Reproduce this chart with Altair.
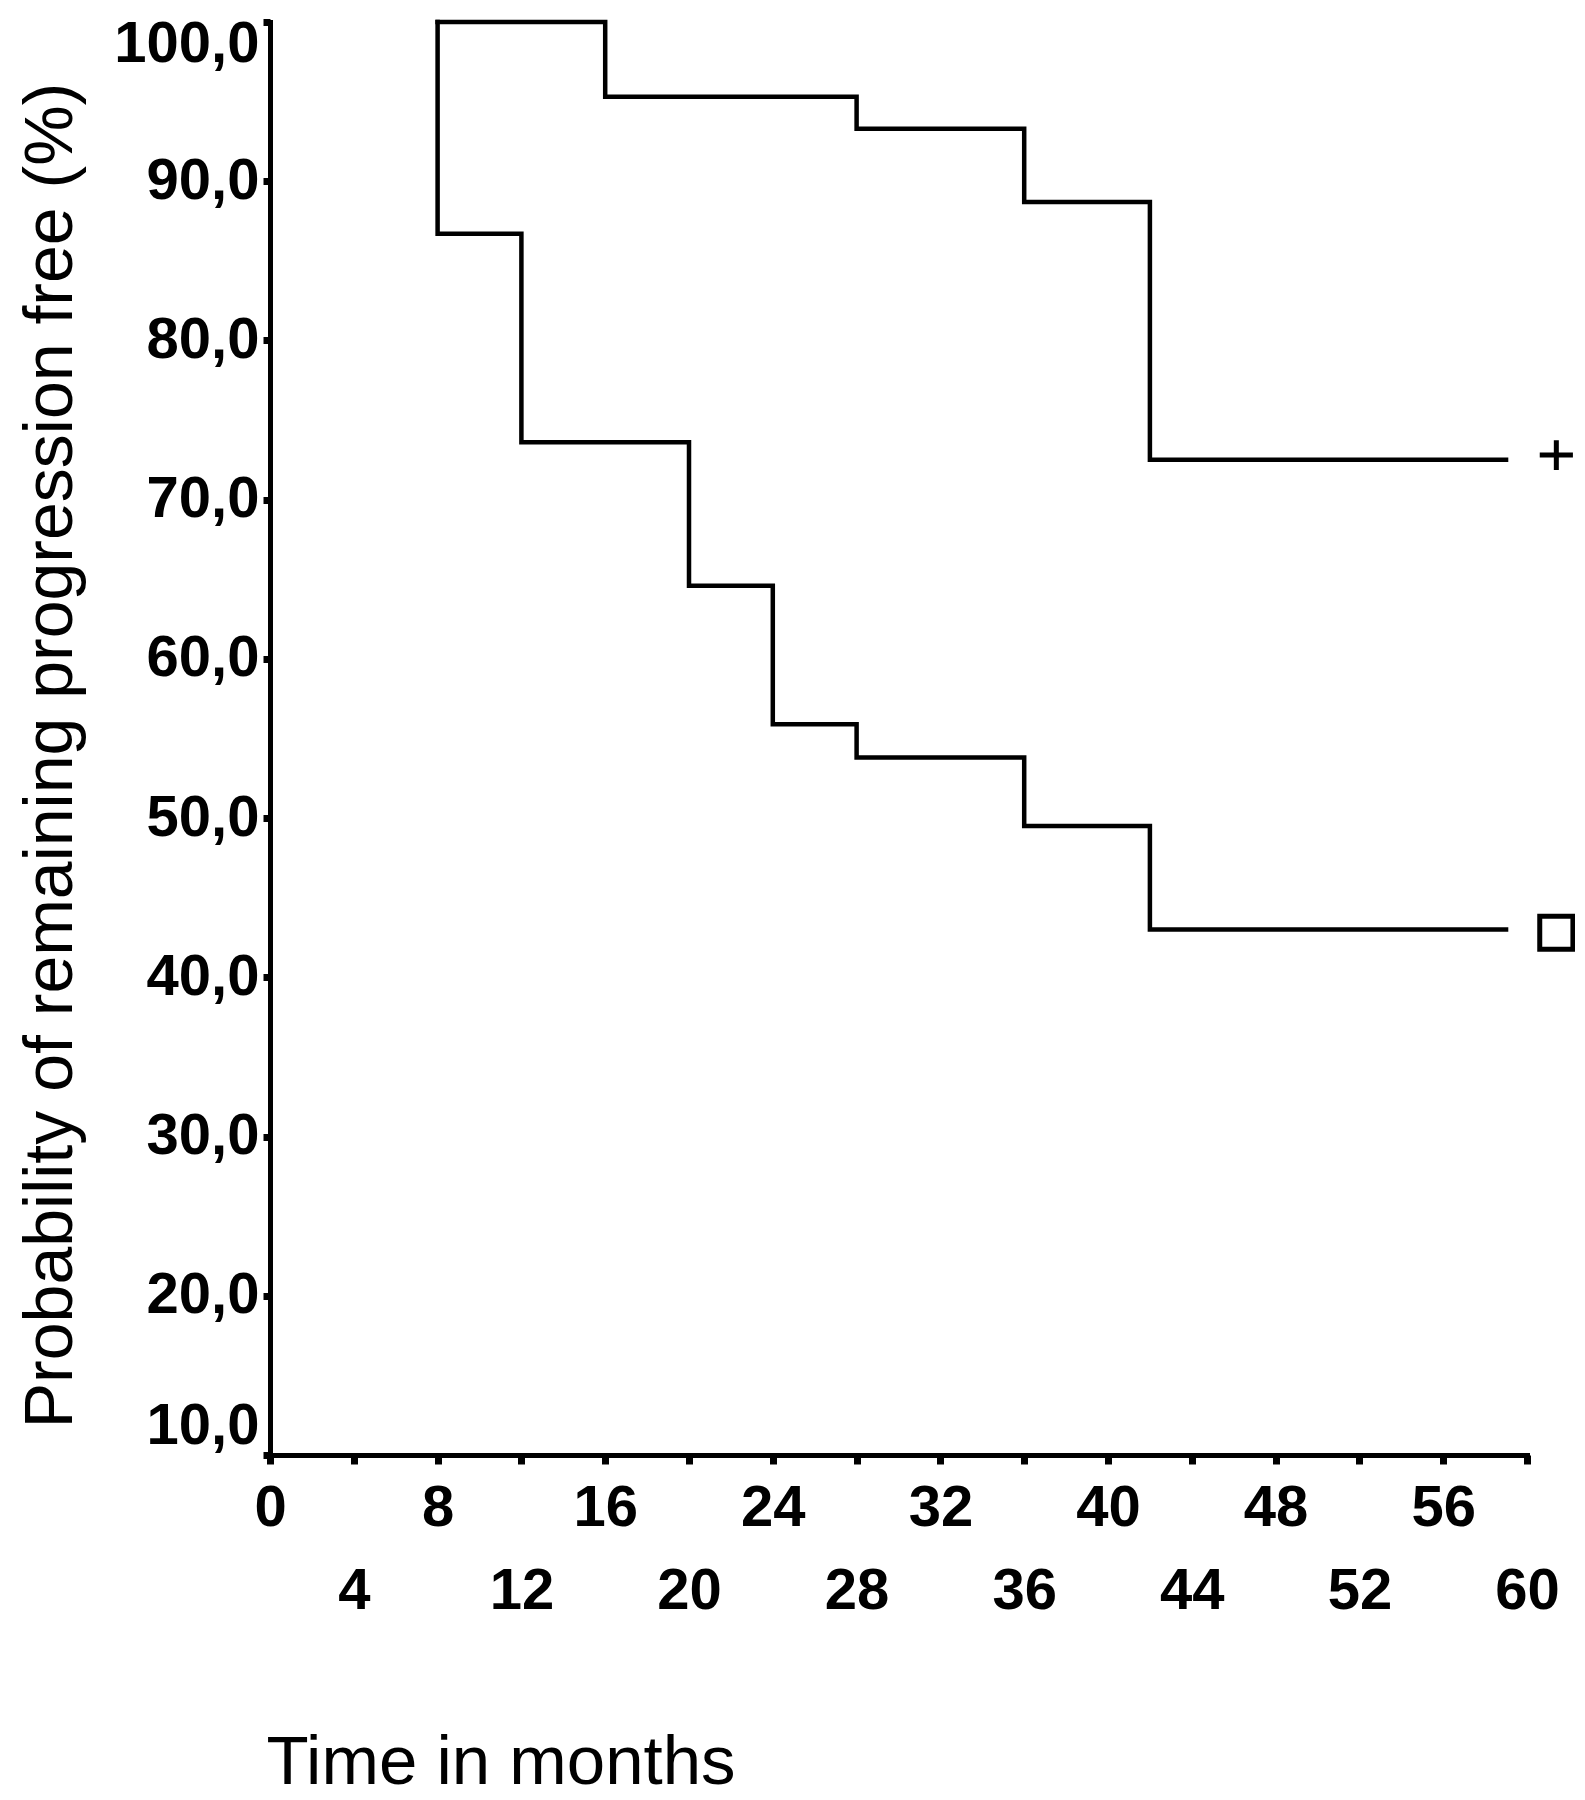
import altair as alt
import pandas as pd

# Kaplan-Meier style step curves (time in months, % progression free)
upper_months = [8, 16, 28, 36, 42, 59]
upper_pct = [100.0, 95.3, 93.3, 88.7, 72.5, 72.5]
lower_months = [8, 8, 12, 20, 24, 28, 36, 42, 59]
lower_pct = [100.0, 86.7, 73.6, 64.6, 55.9, 53.8, 49.5, 43.0, 43.0]

# end-of-curve group symbols
marker_groups = ["upper", "lower"]
marker_months = [61.4, 61.4]
marker_pct = [72.8, 42.8]

x_ticks = list(range(0, 61, 4))
y_ticks = list(range(10, 101, 10))

rows = []
for i, (m, p) in enumerate(zip(upper_months, upper_pct)):
    rows.append({"group": "upper", "month": m, "pct": p, "idx": i})
for i, (m, p) in enumerate(zip(lower_months, lower_pct)):
    rows.append({"group": "lower", "month": m, "pct": p, "idx": i})
df = pd.DataFrame(rows)

mdf = pd.DataFrame({"group": marker_groups, "month": marker_months, "pct": marker_pct})

LABEL_FONT = "Liberation Sans Narrow, Liberation Sans, Arial, sans-serif"
TITLE_FONT = "Liberation Sans, Arial, sans-serif"

x_axis = alt.Axis(
    values=x_ticks,
    format="d",
    title="Time in months",
    titleFont=TITLE_FONT,
    titleFontSize=69,
    titleFontWeight="normal",
    titleColor="black",
    titleX=-4,
    titleY=328,
    titleAlign="left",
    titleBaseline="alphabetic",
    labelFont=LABEL_FONT,
    labelFontSize=58,
    labelFontWeight="bold",
    labelColor="black",
    labelFlush=False,
    labelOverlap=False,
    labelBound=False,
    labelPadding={"condition": {"test": "datum.value % 8 != 0", "value": 98}, "value": 15},
    tickSize=9,
    tickWidth=7,
    tickColor="black",
    domainColor="black",
    domainWidth=5,
    domainCap="square",
    grid=False,
)

y_axis = alt.Axis(
    values=y_ticks,
    labelExpr="replace(format(datum.value, '.1f'), '.', ',')",
    title="Probability of remaining progression free (%)",
    titleFont=TITLE_FONT,
    titleFontSize=68,
    titleFontWeight="normal",
    titleColor="black",
    titleX=-199,
    titleY=733,
    titleAngle=270,
    titleAlign="center",
    titleBaseline="alphabetic",
    labelFont=LABEL_FONT,
    labelFontSize=58,
    labelFontWeight="bold",
    labelColor="black",
    labelFlush=False,
    labelOverlap=False,
    labelBound=False,
    labelPadding=4,
    labelLineHeight=45,
    labelBaseline={
        "condition": [
            {"test": "datum.value == 10", "value": "bottom"},
            {"test": "datum.value == 100", "value": "line-top"},
        ],
        "value": "middle",
    },
    tickSize=7,
    tickWidth=7,
    tickColor="black",
    domainColor="black",
    domainWidth=5,
    domainCap="square",
    grid=False,
)

x_enc = alt.X("month:Q", scale=alt.Scale(domain=[0, 60], nice=False, zero=False), axis=x_axis)
y_enc = alt.Y("pct:Q", scale=alt.Scale(domain=[10, 100], nice=False, zero=False), axis=y_axis)

lines = alt.Chart(df).mark_line(
    interpolate="step-after", color="black", strokeWidth=4.5, clip=False,
    strokeJoin="miter", strokeCap="square"
).encode(
    x=x_enc,
    y=y_enc,
    detail="group:N",
    order=alt.Order("idx:Q"),
)

plus = alt.Chart(mdf).transform_filter(alt.datum.group == "upper").mark_point(
    shape="M-1,0L1,0M0,-0.9L0,0.9", size=1100, filled=False, color="black",
    strokeWidth=5, opacity=1, clip=False
).encode(x=x_enc, y=y_enc)

square = alt.Chart(mdf).transform_filter(alt.datum.group == "lower").mark_point(
    shape="square", size=1100, filled=False, color="black",
    strokeWidth=5, opacity=1, clip=False
).encode(x=x_enc, y=y_enc)

chart = (
    alt.layer(lines, plus, square)
    .properties(
        width=1257,
        height=1433,
        autosize=alt.AutoSizeParams(type="none"),
        padding={"left": 262, "top": 14, "right": 48, "bottom": 344},
        background="white",
    )
    .configure_view(stroke=None)
)

chart.save("out.html", embed_options={"renderer": "svg", "actions": False})
